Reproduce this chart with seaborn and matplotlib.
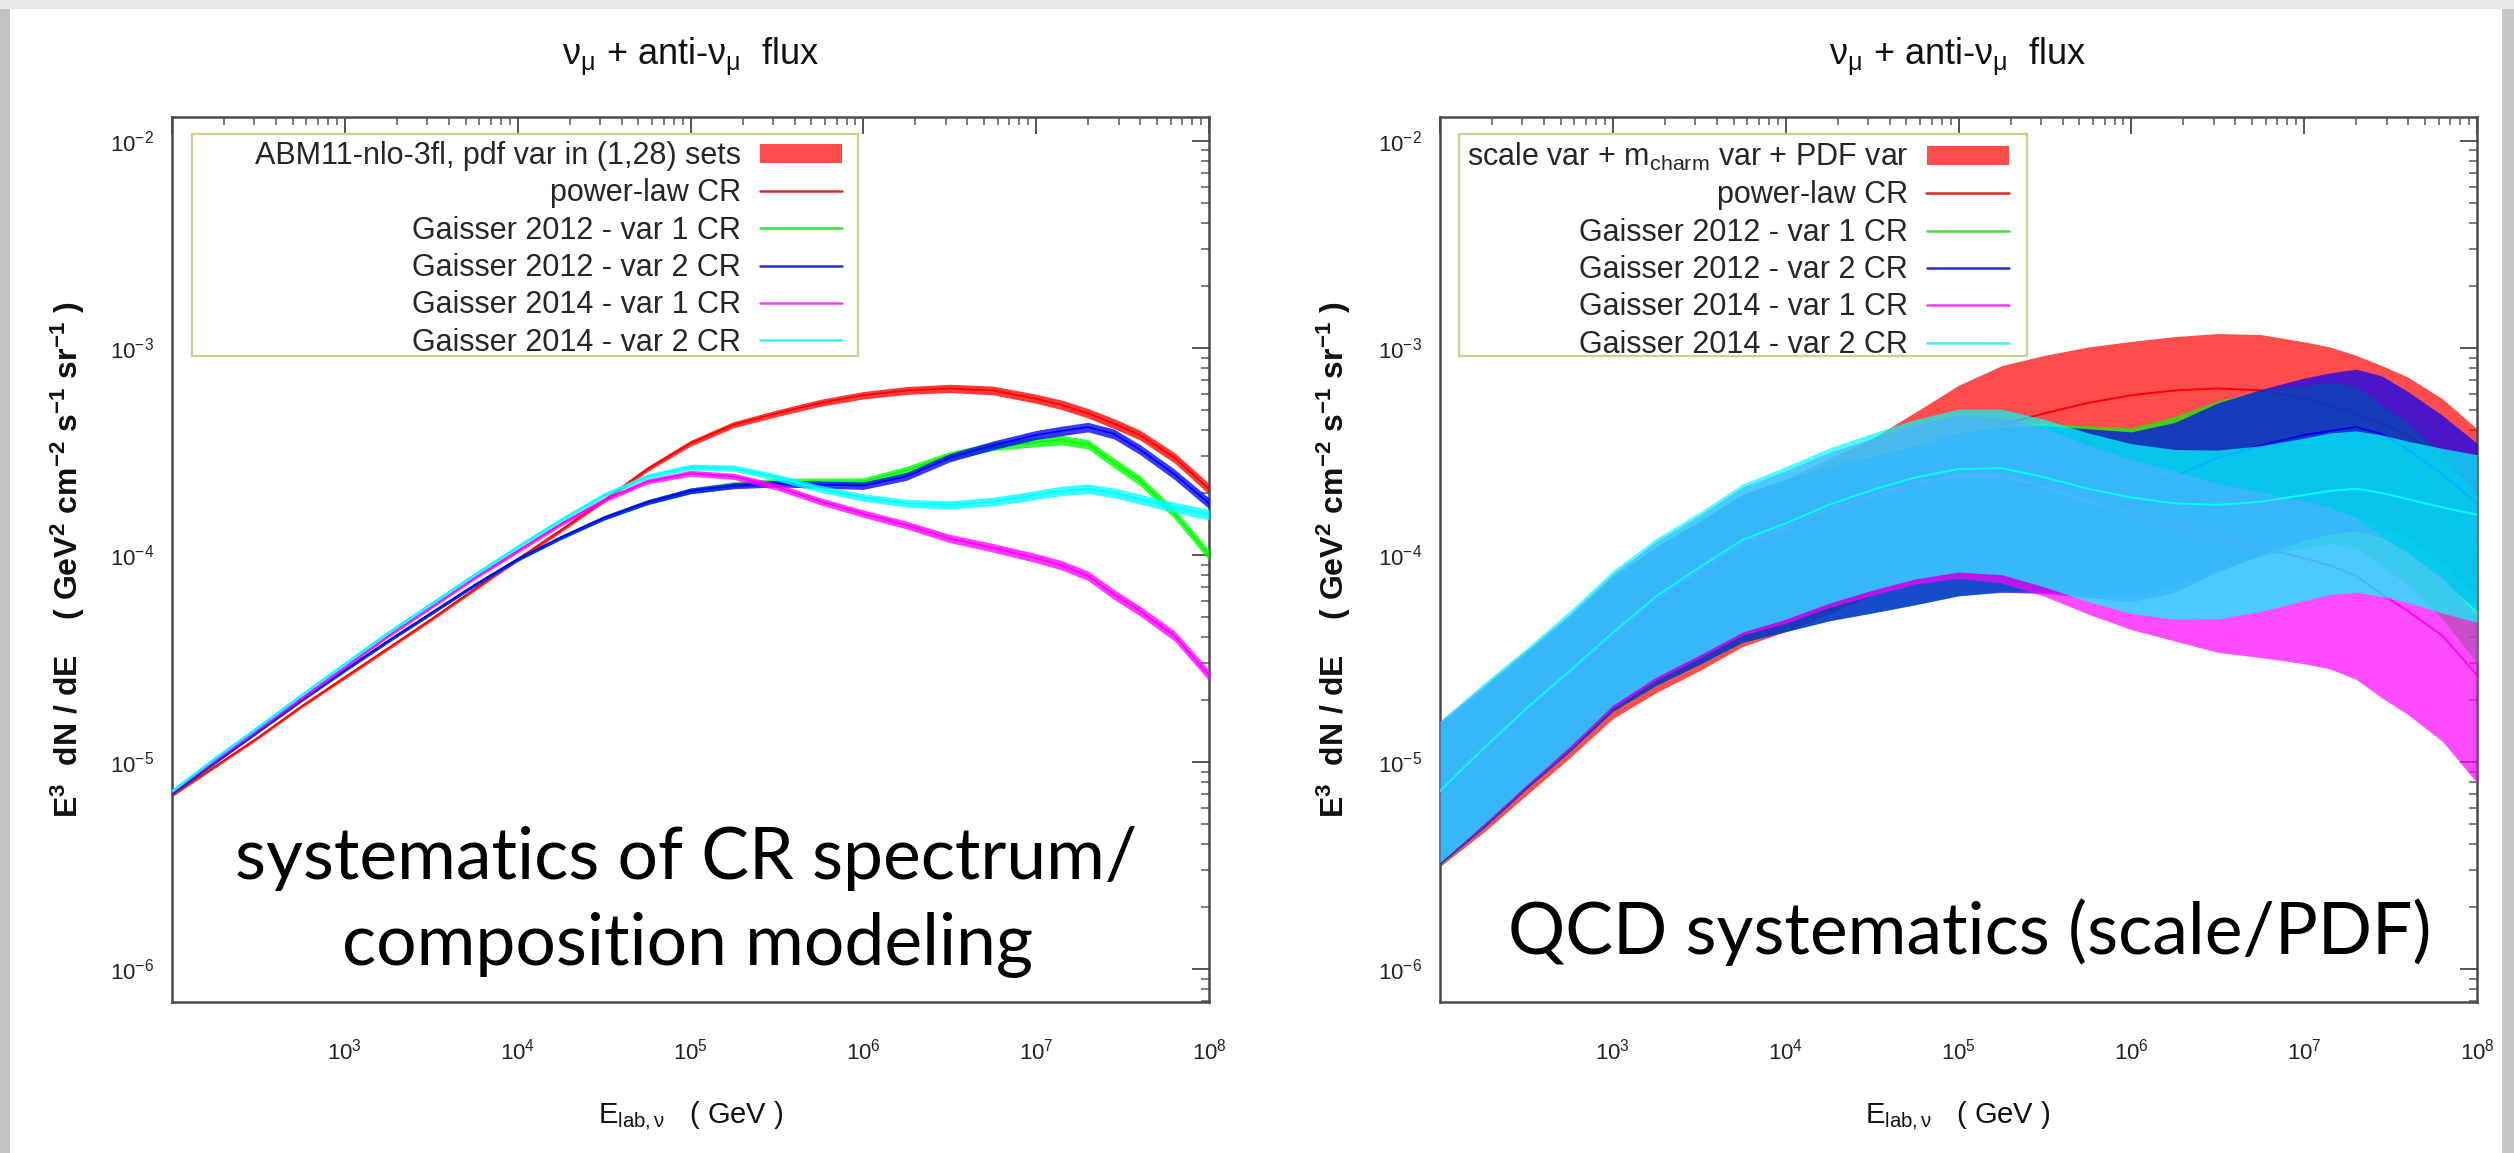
import numpy as np
import pandas as pd
import matplotlib
matplotlib.use("Agg")
import matplotlib.pyplot as plt
from matplotlib import font_manager
from matplotlib.patches import Rectangle, Patch
from matplotlib.lines import Line2D
from matplotlib.ticker import LogLocator, NullFormatter
import seaborn as sns

# ---------------------------------------------------------------- data
# neutrino energy grid, log10(E / GeV)
log10_energy = [2.0, 2.25, 2.5, 2.75, 3.0, 3.25, 3.5, 3.75, 4.0, 4.25, 4.5, 4.75, 5.0, 5.25,
                5.5, 5.75, 6.0, 6.25, 6.5, 6.75, 7.0, 7.15, 7.3, 7.45, 7.6, 7.8, 8.0]

# left panel: central predictions, log10(E^3 dN/dE)
cr_powerlaw = [-5.16, -5.02, -4.88, -4.73, -4.59, -4.45, -4.31, -4.165, -4.02, -3.88, -3.735,
               -3.585, -3.46, -3.37, -3.315, -3.265, -3.228, -3.205, -3.195, -3.205, -3.245,
               -3.275, -3.315, -3.365, -3.42, -3.53, -3.68]
cr_g12_var1 = [-5.15, -5.00, -4.85, -4.70, -4.555, -4.415, -4.28, -4.145, -4.02, -3.915, -3.82,
               -3.745, -3.69, -3.66, -3.645, -3.645, -3.645, -3.59, -3.52, -3.475, -3.455,
               -3.445, -3.465, -3.555, -3.64, -3.80, -4.00]
cr_g12_var2 = [-5.15, -5.00, -4.85, -4.70, -4.555, -4.415, -4.28, -4.145, -4.02, -3.915, -3.82,
               -3.745, -3.69, -3.665, -3.655, -3.66, -3.665, -3.62, -3.53, -3.47, -3.42,
               -3.40, -3.382, -3.415, -3.49, -3.61, -3.75]
cr_g14_var1 = [-5.14, -4.99, -4.84, -4.69, -4.54, -4.39, -4.25, -4.11, -3.98, -3.85, -3.735,
               -3.645, -3.605, -3.62, -3.67, -3.74, -3.80, -3.855, -3.92, -3.965, -4.015,
               -4.05, -4.10, -4.19, -4.27, -4.39, -4.58]
cr_g14_var2 = [-5.14, -4.98, -4.83, -4.675, -4.525, -4.375, -4.235, -4.095, -3.96, -3.83, -3.71,
               -3.62, -3.575, -3.58, -3.625, -3.68, -3.722, -3.75, -3.758, -3.742, -3.71,
               -3.69, -3.68, -3.70, -3.73, -3.77, -3.805]
# half width of the PDF-variation band (dex)
pdf_half_dex = [0.008, 0.008, 0.008, 0.008, 0.009, 0.009, 0.009, 0.009, 0.010, 0.010, 0.011,
                0.012, 0.014, 0.015, 0.016, 0.017, 0.018, 0.019, 0.020, 0.021, 0.022,
                0.023, 0.023, 0.024, 0.024, 0.025, 0.026]

# right panel: central predictions, log10(E^3 dN/dE)
qcd_powerlaw = [-5.16, -4.975, -4.79, -4.615, -4.44, -4.275, -4.135, -3.997, -3.907, -3.808,
                -3.711, -3.59, -3.47, -3.37, -3.315, -3.265, -3.228, -3.205, -3.195, -3.205,
                -3.245, -3.275, -3.315, -3.365, -3.42, -3.53, -3.68]
qcd_g12_var1 = [-5.15, -4.955, -4.76, -4.585, -4.405, -4.24, -4.105, -3.977, -3.907, -3.843,
                -3.796, -3.75, -3.70, -3.66, -3.645, -3.645, -3.645, -3.59, -3.52, -3.475,
                -3.455, -3.445, -3.465, -3.555, -3.64, -3.80, -4.00]
qcd_g12_var2 = [-5.15, -4.955, -4.76, -4.585, -4.405, -4.24, -4.105, -3.977, -3.907, -3.843,
                -3.796, -3.75, -3.70, -3.665, -3.655, -3.66, -3.665, -3.62, -3.53, -3.47,
                -3.42, -3.40, -3.382, -3.415, -3.49, -3.61, -3.75]
qcd_g14_var1 = [-5.14, -4.945, -4.75, -4.575, -4.39, -4.215, -4.075, -3.942, -3.867, -3.778,
                -3.711, -3.65, -3.615, -3.62, -3.67, -3.74, -3.80, -3.855, -3.92, -3.965,
                -4.015, -4.05, -4.10, -4.19, -4.27, -4.39, -4.58]
qcd_g14_var2 = [-5.14, -4.935, -4.74, -4.56, -4.375, -4.20, -4.06, -3.927, -3.847, -3.758,
                -3.686, -3.625, -3.585, -3.58, -3.625, -3.68, -3.722, -3.75, -3.758, -3.742,
                -3.71, -3.69, -3.68, -3.70, -3.73, -3.77, -3.805]
# scale + m_charm + PDF envelope, upward / downward extent (dex)
qcd_up_dex = [0.338, 0.314, 0.29, 0.29, 0.30, 0.28, 0.266, 0.27, 0.274, 0.274, 0.274, 0.28,
              0.29, 0.285, 0.28, 0.27, 0.26, 0.26, 0.265, 0.27, 0.275, 0.28, 0.28, 0.28,
              0.28, 0.285, 0.29]
qcd_down_dex = [0.345, 0.366, 0.37, 0.365, 0.35, 0.39, 0.424, 0.445, 0.463, 0.475, 0.484, 0.49,
                0.497, 0.515, 0.53, 0.545, 0.56, 0.56, 0.55, 0.53, 0.51, 0.50, 0.50, 0.50,
                0.50, 0.51, 0.52]

series_labels = ["power-law CR", "Gaisser 2012 - var 1 CR", "Gaisser 2012 - var 2 CR",
                 "Gaisser 2014 - var 1 CR", "Gaisser 2014 - var 2 CR"]
series_colors = ["#ff0000", "#00ff00", "#0000ff", "#ff00ff", "#00ffff"]
legend_colors = ["#e02828", "#3ee03e", "#2030c0", "#ee40ee", "#40eeee"]
band_labels = ["ABM11-nlo-3fl, pdf var in (1,28) sets",
               r"scale var + m$_{\mathrm{charm}}$ var + PDF var"]
panel_notes = [["systematics of CR spectrum/", "composition modeling"],
               ["QCD systematics (scale/PDF)"]]
title_text = r"ν$_{\mathrm{μ}}$ + anti-ν$_{\mathrm{μ}}$  flux"
xlabel_text = r"E$_{\mathrm{lab,ν}}$   ( GeV )"
ylabel_text = r"$\mathbf{E^{3}\ \ dN\ /\ dE\ \ \ \ (\ GeV^{2}\ cm^{-2}\ s^{-1}\ sr^{-1}\ )}$"

# ---------------------------------------------------------------- style
sns.set_theme(style="white")
plt.rcParams["font.family"] = ["Liberation Sans", "DejaVu Sans"]
plt.rcParams["mathtext.fontset"] = "custom"
plt.rcParams["mathtext.rm"] = "Liberation Sans"
plt.rcParams["mathtext.it"] = "Liberation Sans:italic"
plt.rcParams["mathtext.bf"] = "Liberation Sans:bold"
plt.rcParams["mathtext.sf"] = "Liberation Sans"

names = {f.name for f in font_manager.fontManager.ttflist}
narrow = "Liberation Sans Narrow" if "Liberation Sans Narrow" in names else "Liberation Sans"
note_font = "Lato" if "Lato" in names else "DejaVu Sans"

W, H = 2514, 1153
fig = plt.figure(figsize=(W / 100, H / 100), dpi=100, facecolor="#e9e9e9")

# slide page with a soft grey rim (kept behind the axes)
fig.patches.append(Rectangle((10 / W, 0), (2502 - 10) / W, (H - 9) / H, transform=fig.transFigure,
                             facecolor="white", edgecolor="none", zorder=-10))
fig.patches.append(Rectangle((0, 0), 10 / W, (H - 9) / H, transform=fig.transFigure,
                             facecolor="#c2c2c2", edgecolor="none", zorder=-10))
fig.patches.append(Rectangle((2502 / W, 0), 12 / W, (H - 9) / H, transform=fig.transFigure,
                             facecolor="#c8c8c8", edgecolor="none", zorder=-10))


def px_axes(x0, y0, x1, y1):
    return fig.add_axes([x0 / W, 1 - y1 / H, (x1 - x0) / W, (y1 - y0) / H])


def style_axes(ax):
    ax.set_xscale("log")
    ax.set_yscale("log")
    ax.set_xlim(1e2, 1e8)
    ax.set_ylim(10 ** -6.159, 10 ** -1.884)
    ax.set_xticks([10.0 ** k for k in range(2, 9)],
                  [""] + [f"$10^{{{k}}}$" for k in range(3, 9)])
    ax.set_yticks([10.0 ** k for k in range(-6, -1)],
                  [f"$10^{{{k}}}$" for k in range(-6, -1)])
    for axis in (ax.xaxis, ax.yaxis):
        axis.set_minor_locator(LogLocator(base=10, subs=np.arange(2, 10), numticks=100))
        axis.set_minor_formatter(NullFormatter())
    ax.tick_params(which="both", direction="in", top=True, right=True)
    ax.tick_params(which="major", length=12, width=1.4, color="#555555",
                   labelsize=16, labelcolor="#222222")
    ax.tick_params(which="minor", length=6, width=1.2, color="#666666")
    ax.tick_params(axis="x", which="major", pad=26)
    ax.tick_params(axis="y", which="major", pad=13)
    for s in ax.spines.values():
        s.set_color("#4a4a4a")
        s.set_linewidth(1.8)
    ax.set_facecolor("white")
    ax.grid(False)


energy = 10.0 ** np.array(log10_energy)
left_series = [cr_powerlaw, cr_g12_var1, cr_g12_var2, cr_g14_var1, cr_g14_var2]
right_series = [qcd_powerlaw, qcd_g12_var1, qcd_g12_var2, qcd_g14_var1, qcd_g14_var2]

ax_l = px_axes(172, 117, 1209, 1002)
ax_r = px_axes(1440, 117, 2477, 1002)

# left: CR-model curves with their narrow PDF bands
hw = np.array(pdf_half_dex)
for i, (vals, col) in enumerate(zip(left_series, series_colors)):
    c = np.array(vals)
    ax_l.fill_between(energy, 10 ** (c - hw), 10 ** (c + hw), color=col, alpha=0.78,
                      lw=0, zorder=2 + 2 * i)
    df = pd.DataFrame({"E": energy, "flux": 10 ** c})
    sns.lineplot(data=df, x="E", y="flux", color=col, lw=1.2, ax=ax_l,
                 estimator=None, sort=False, zorder=3 + 2 * i)

# right: QCD envelopes for each CR model
up = np.array(qcd_up_dex)
dn = np.array(qcd_down_dex)
for i, (vals, col) in enumerate(zip(right_series, series_colors)):
    c = np.array(vals)
    ax_r.fill_between(energy, 10 ** (c - dn), 10 ** (c + up), color=col, alpha=0.7,
                      lw=0, zorder=2 + 2 * i)
    df = pd.DataFrame({"E": energy, "flux": 10 ** c})
    sns.lineplot(data=df, x="E", y="flux", color=col, lw=1.4, ax=ax_r,
                 estimator=None, sort=False, zorder=3 + 2 * i)

for ax in (ax_l, ax_r):
    style_axes(ax)
    ax.set_xlabel("")
    ax.set_ylabel("")

# legends with a thin khaki key box
key_boxes = [(192, 858, 842), (1459, 2027, 2009)]
for ax, blabel, (bx0, bx1, hx), ax_x0 in zip((ax_l, ax_r), band_labels, key_boxes, (172, 1440)):
    handles = [Patch(facecolor="#ff0000", alpha=0.7, edgecolor="none")]
    handles += [Line2D([], [], color=c, lw=1.8) for c in legend_colors]
    ax.legend(handles, [blabel] + series_labels, loc="upper right",
              bbox_to_anchor=((hx - ax_x0) / 1037, (1002 - 141) / 885),
              bbox_transform=ax.transAxes, frameon=False, markerfirst=False,
              fontsize=22, handlelength=2.7, handleheight=0.6, handletextpad=0.6,
              labelspacing=0.24, borderpad=0, borderaxespad=0)
    ax.add_patch(Rectangle(((bx0 - ax_x0) / 1037, (1002 - 356) / 885),
                           (bx1 - bx0) / 1037, (356 - 134) / 885, transform=ax.transAxes,
                           facecolor="none", edgecolor="#cfcf90", lw=1.6, zorder=20))

# panel titles and axis labels
for cx, ylx in ((691, 68), (1958, 1334)):
    fig.text(cx / W, 1 - 57 / H, title_text, ha="center", va="center",
             fontsize=26, family=narrow, color="#111111")
    fig.text(cx / W, 1 - 1115 / H, xlabel_text, ha="center", va="center",
             fontsize=21, family=narrow, color="#111111")
    fig.text(ylx / W, 1 - 560 / H, ylabel_text, ha="center", va="center",
             rotation=90, fontsize=23, color="#111111")

# overlaid slide notes
fig.text(686 / W, 1 - 879 / H, panel_notes[0][0], ha="center", va="baseline",
         fontsize=51.5, family=note_font, color="black", zorder=30)
fig.text(688 / W, 1 - 965 / H, panel_notes[0][1], ha="center", va="baseline",
         fontsize=51.5, family=note_font, color="black", zorder=30)
fig.text(1970 / W, 1 - 954 / H, panel_notes[1][0], ha="center", va="baseline",
         fontsize=51.5, family=note_font, color="black", zorder=30)

fig.savefig("out.png", dpi=100, facecolor=fig.get_facecolor())
